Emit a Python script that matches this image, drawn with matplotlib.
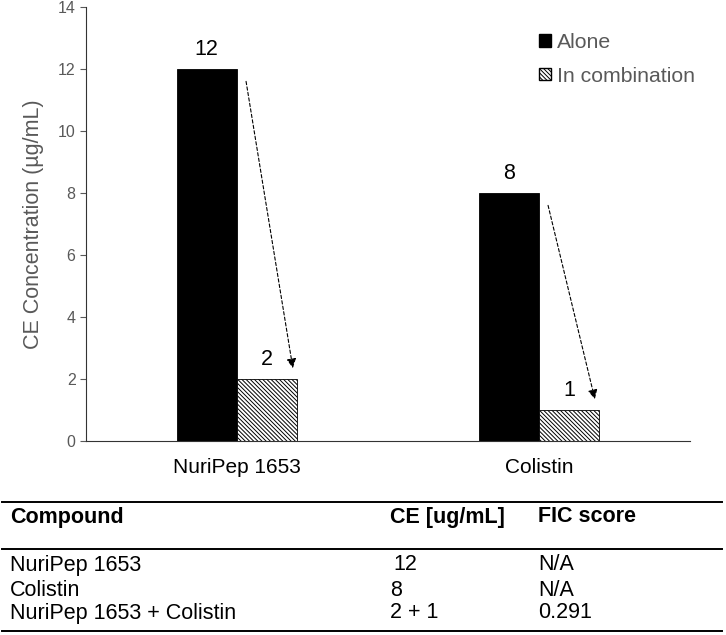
import numpy as np
import matplotlib
matplotlib.use("Agg")
import matplotlib.pyplot as plt
from matplotlib.patches import Patch

compounds = ["NuriPep 1653", "Colistin"]
alone = [12, 8]
combination = [2, 1]

table_header = ["Compound", "CE [ug/mL]", "FIC score"]
table_rows = [
    ["NuriPep 1653", "12", "N/A"],
    ["Colistin", "8", "N/A"],
    ["NuriPep 1653 + Colistin", "2 + 1", "0.291"],
]

plt.rcParams["font.family"] = ["Liberation Sans", "DejaVu Sans"]
plt.rcParams["hatch.linewidth"] = 0.7
gray = "#595959"
hatch = "\\" * 8

fig = plt.figure(figsize=(7.26, 6.35), dpi=100)
ax = fig.add_axes([86 / 726, 1 - 441 / 635, 604 / 726, 434 / 635])

x = np.arange(len(compounds))
w = 0.2
ax.bar(x - w / 2, alone, w, color="black", edgecolor="black", linewidth=0.6, label="Alone")
ax.bar(x + w / 2, combination, w, color="white", edgecolor="black", linewidth=0.6,
       hatch=hatch, label="In combination")

for xi, a, c in zip(x, alone, combination):
    ax.text(xi - w / 2, a + 0.3, str(a), ha="center", va="bottom", fontsize=15.5)
    ax.text(xi + w / 2, c + 0.3, str(c), ha="center", va="bottom", fontsize=15.5)
    ax.annotate("", xy=(xi + 0.185, c + 0.35), xytext=(xi + 0.03, a - 0.4),
                arrowprops=dict(arrowstyle="-|>", linestyle=(0, (3, 2)), lw=0.8,
                                color="black", mutation_scale=14, shrinkA=0, shrinkB=0))

ax.set_xlim(-0.5, 1.5)
ax.set_ylim(0, 14)
ax.set_yticks(range(0, 15, 2))
ax.set_xticks(x)
ax.set_xticklabels(compounds, fontsize=15)
ax.tick_params(axis="x", length=0, pad=12)
ax.tick_params(axis="y", colors=gray, labelsize=11.5, length=4, width=0.8)
ax.set_ylabel("CE Concentration (µg/mL)", fontsize=15.5, color=gray, labelpad=10)
for side in ["top", "right"]:
    ax.spines[side].set_visible(False)
ax.spines["left"].set_color("#333333")
ax.spines["bottom"].set_color("#333333")

handles = [Patch(facecolor="black", edgecolor="black"),
           Patch(facecolor="white", edgecolor="black", hatch=hatch)]
leg = ax.legend(handles, ["Alone", "In combination"], loc="upper right",
                bbox_to_anchor=(1.04, 0.985), frameon=False, fontsize=15.3,
                handlelength=0.55, handleheight=0.55, handletextpad=0.3, labelspacing=0.7)
for t in leg.get_texts():
    t.set_color(gray)

# table below the chart
H = 635
def fy(py):
    return 1 - py / H

for py in [502, 549, 631]:
    fig.add_artist(plt.Line2D([2 / 726, 722 / 726], [fy(py), fy(py)], color="black", lw=1.4))

col_x = [10 / 726, 390 / 726, 538 / 726]
tf = ["Liberation Sans Narrow", "Liberation Sans", "DejaVu Sans"]
for cx, h in zip(col_x, table_header):
    fig.text(cx, fy(517), h, fontsize=15.5, fontweight="bold", va="center", family=tf)
row_y = [565, 590, 613]
ce_x = [393 / 726, 390 / 726, 390 / 726]
for ry, row, cex in zip(row_y, table_rows, ce_x):
    fig.text(col_x[0], fy(ry), row[0], fontsize=15.5, va="center", family=tf)
    fig.text(cex, fy(ry), row[1], fontsize=15.5, va="center", family=tf)
    fig.text(col_x[2], fy(ry), row[2], fontsize=15.5, va="center", family=tf)

fig.savefig("out.png", dpi=100)
